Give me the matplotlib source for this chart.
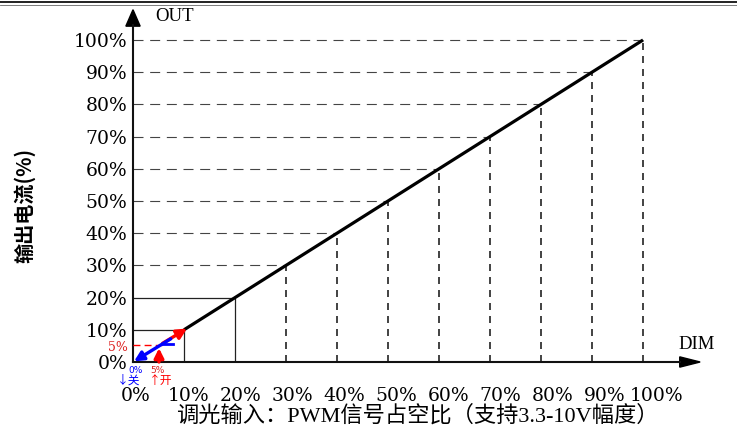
import matplotlib
matplotlib.use("Agg")
import matplotlib.pyplot as plt
from matplotlib.lines import Line2D
from matplotlib.patches import Polygon

# ---- data ----
levels = [10, 20, 30, 40, 50, 60, 70, 80, 90, 100]      # guide levels (%)
line_x = [10, 100]                                       # output line (PWM %)
line_y = [10, 100]                                       # output current (%)
x_ticks = [0, 10, 20, 30, 40, 50, 60, 70, 80, 90, 100]
x_tick_labels = ["0%", "10%", "20%", "30%", "40%", "50%", "60%", "70%", "80%", "90%", "100%"]
y_ticks = [0, 10, 20, 30, 40, 50, 60, 70, 80, 90, 100]
y_tick_labels = ["0%", "10%", "20%", "30%", "40%", "50%", "60%", "70%", "80%", "90%", "100%"]
on_level = 5      # turn-on threshold (%)
off_level = 0     # turn-off threshold (%)

W, H = 737, 430
fig = plt.figure(figsize=(W / 100, H / 100), dpi=100)
fig.patch.set_facecolor("white")

# axes placement (pixels): x0=133, y0=362 (from top), 5.1 px per %, 3.22 px per %
x_max, y_max = 107.3, 104.7
ax = fig.add_axes([133 / W, (H - 362) / H, 5.1 * x_max / W, 3.22 * y_max / H])
ax.set_xlim(0, x_max)
ax.set_ylim(0, y_max)
for s in ["top", "right"]:
    ax.spines[s].set_visible(False)
for s in ["left", "bottom"]:
    ax.spines[s].set_linewidth(1.5)
    ax.spines[s].set_color("#111111")

serif = "DejaVu Serif"
ax.set_xticks([v * 1.02 + 0.6 for v in x_ticks])
ax.set_xticklabels(x_tick_labels, fontfamily=serif, fontsize=13.5)
ax.set_yticks(y_ticks)
ax.set_yticklabels(y_tick_labels, fontfamily=serif, fontsize=13.5)
ax.tick_params(axis="x", length=0, pad=18)
ax.tick_params(axis="y", length=0, pad=4)

# axis arrows
ax.add_patch(Polygon([(-1.4, 104.3), (1.4, 104.3), (0, 109.4)], closed=True,
                     color="black", clip_on=False))
ax.add_patch(Polygon([(107.2, -1.6), (107.2, 1.6), (111.2, 0)], closed=True,
                     color="black", clip_on=False))
ax.text(4.3, 107.2, "OUT", fontfamily="Liberation Serif", fontsize=13.5,
        ha="left", va="center")
ax.text(106.9, 5.4, "DIM", fontfamily="Liberation Serif", fontsize=13.5,
        ha="left", va="center")

# guide lines
for v in levels:
    if v <= 20:
        ax.plot([0, v], [v, v], color="#222222", lw=0.9, solid_capstyle="butt")
        ax.plot([v, v], [0, v], color="#222222", lw=0.9, solid_capstyle="butt")
    else:
        ax.plot([0, v], [v, v], color="#444444", lw=0.8, linestyle=(0, (9, 6)))
        ax.plot([v, v], [0, v], color="#222222", lw=1.2, linestyle=(0, (4.2, 3.6)))

# main output line
ax.plot(line_x, line_y, color="black", lw=2.3, solid_capstyle="butt", zorder=5)

# on/off hysteresis arrows
ax.plot([0, on_level + 0.7], [on_level + 0.3, on_level + 0.3], color="red",
        lw=1.0, linestyle=(0, (5, 3)), zorder=4)
ax.annotate("", xy=(10.6, 10.4), xytext=(5.8, 5.8),
            arrowprops=dict(arrowstyle="-|>", color="red", lw=2.4,
                            mutation_scale=15, shrinkA=0, shrinkB=0), zorder=6)
ax.annotate("", xy=(on_level + 0.1, 4.3), xytext=(on_level + 0.1, 0),
            arrowprops=dict(arrowstyle="-|>", color="red", lw=2.4,
                            mutation_scale=14, shrinkA=0, shrinkB=0), zorder=6)
ax.annotate("", xy=(off_level + 0.2, 0.2), xytext=(7.4, 7.2),
            arrowprops=dict(arrowstyle="-|>", color="blue", lw=2.4,
                            mutation_scale=14, shrinkA=0, shrinkB=0), zorder=7)
ax.plot([5.7, 7.9], [5.6, 5.6], color="blue", lw=2.0, zorder=7)

ax.text(-1.0, 4.5, "5%", color="#dd2222", fontfamily=serif, fontsize=9,
        ha="right", va="center")
ax.text(0.6, -2.5, "0%", color="blue", fontfamily="DejaVu Sans", fontsize=6.5,
        ha="center", va="center", clip_on=False)
ax.text(4.8, -2.5, "5%", color="#dd2222", fontfamily="DejaVu Sans", fontsize=6.5,
        ha="center", va="center", clip_on=False)
cjk = ["Noto Sans CJK SC", "DejaVu Sans"]
ax.text(-0.8, -5.6, "↓关", color="blue", fontfamily=cjk, fontsize=8.5,
        ha="center", va="center")
ax.text(5.5, -5.6, "↑开", color="red", fontfamily=cjk, fontsize=8.5,
        ha="center", va="center")

# axis titles
ax.set_xlabel("调光输入：PWM信号占空比（支持3.3-10V幅度）",
              fontfamily=["Liberation Serif", "Noto Sans CJK SC"], fontsize=16)
ax.xaxis.set_label_coords((417 - 133) / (5.1 * x_max), -(416 - 362) / (3.22 * y_max))
ax.xaxis.label.set_va("center")
ax.set_ylabel("输出电流(%)", fontfamily=["Noto Sans CJK SC", "DejaVu Sans"],
              fontsize=14.5, fontweight="bold")
ax.yaxis.set_label_coords((25 - 133) / (5.1 * x_max), (362 - 205) / (3.22 * y_max))
ax.yaxis.label.set_va("center")

# top border rule
fig.add_artist(Line2D([0, 1], [1 - 2.0 / H, 1 - 2.0 / H], color="#222222", lw=1.4))
fig.add_artist(Line2D([0, 1], [1 - 4.5 / H, 1 - 4.5 / H], color="#666666", lw=0.6))

fig.savefig("out.png", dpi=100, facecolor="white")
